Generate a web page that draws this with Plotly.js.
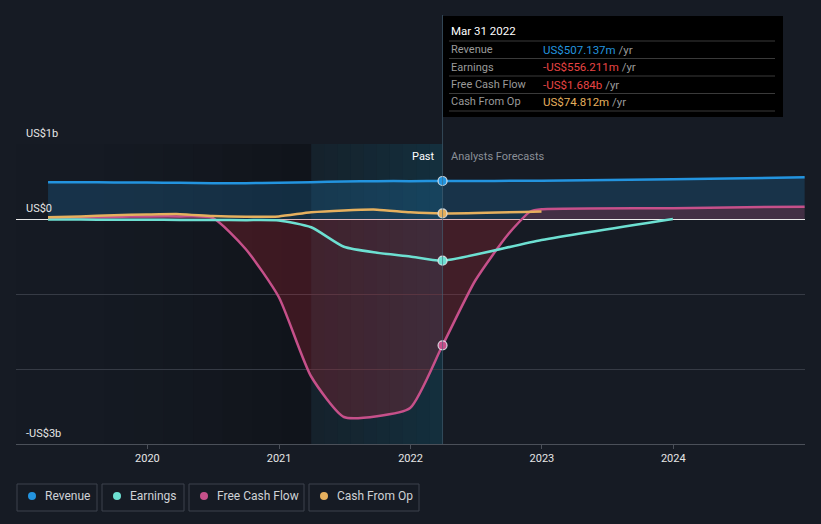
<!DOCTYPE html>
<html>
<head>
<meta charset="utf-8">
<script src="https://cdn.plot.ly/plotly-3.0.1.min.js"></script>
<style>html,body{margin:0;padding:0;background:#161b24;}#chart{width:821px;height:524px;}</style>
</head>
<body>
<div id="chart"></div>
<script>
// ---- data (US$ billions) ----
const pastDates = ['2019-03-31','2019-06-30','2019-09-30','2019-12-31','2020-03-31','2020-06-30','2020-09-30','2020-12-31','2021-03-31','2021-06-30','2021-09-30','2021-12-31','2022-03-31'];
const revenuePast  = [0.49, 0.49, 0.488, 0.486, 0.483, 0.478, 0.478, 0.482, 0.49, 0.50, 0.505, 0.505, 0.507];
const earningsPast = [-0.005, -0.008, -0.01, -0.01, -0.012, -0.012, -0.015, -0.02, -0.11, -0.37, -0.45, -0.50, -0.556];
const fcfPast      = [0.02, 0.022, 0.028, 0.035, 0.035, 0.015, -0.40, -1.04, -2.10, -2.64, -2.63, -2.52, -1.684];
const cfoPast      = [0.025, 0.035, 0.05, 0.06, 0.065, 0.04, 0.03, 0.035, 0.09, 0.115, 0.125, 0.09, 0.0748];

const revenueFcDates  = ['2022-12-31','2023-12-31','2024-12-31'];
const revenueFc       = [0.51, 0.53, 0.556];
const earningsFcDates = ['2022-12-31','2023-12-31'];
const earningsFc      = [-0.28, 0.0];
const fcfFcDates      = ['2022-06-30','2022-09-30','2022-11-30','2022-12-31','2023-12-31','2024-12-31'];
const fcfFc           = [-0.82, -0.20, 0.10, 0.13, 0.145, 0.165];
const cfoFcDates      = ['2022-12-31'];
const cfoFc           = [0.10];

const seriesNames  = ['Revenue','Earnings','Free Cash Flow','Cash From Op'];
const seriesColors = ['#2394df','#6de0d2','#c6508a','#e6b05e'];
const tooltipDate  = 'Mar 31 2022';
const tooltipValues = ['US$507.137m','-US$556.211m','-US$1.684b','US$74.812m'];
const tooltipValueColors = ['#2394df','#e84545','#e84545','#e6b05e'];
const yTickVals  = [1, 0, -3];
const yTickText  = ['US$1b','US$0','-US$3b'];
const xTickVals  = ['2020-01-01','2021-01-01','2022-01-01','2023-01-01','2024-01-01'];
const xTickText  = ['2020','2021','2022','2023','2024'];
const pastStart = '2021-03-31', nowDate = '2022-03-31';

// ---- geometry helpers (pixel -> paper) ----
const W = 821, H = 524, L = 16, R = 16, T = 144, B = 80;
const PW = W - L - R, PH = H - T - B;
const px = x => (x - L) / PW;
const py = y => (H - B - y) / PH;

const F = 'Roboto, "Open Sans", sans-serif';

const traces = [];
// Revenue
traces.push({x: pastDates.concat(revenueFcDates), y: revenuePast.concat(revenueFc), type:'scatter', mode:'lines',
  line:{color:seriesColors[0], width:2.5, shape:'spline', smoothing:0.6}, fill:'tozeroy',
  fillcolor:'rgba(35,148,223,0.2)', hoverinfo:'skip'});
// Free cash flow
traces.push({x: pastDates.concat(fcfFcDates), y: fcfPast.concat(fcfFc), type:'scatter', mode:'lines',
  line:{color:seriesColors[2], width:2.5, shape:'spline', smoothing:0.6}, fill:'tozeroy',
  fillcolor:'rgba(190,40,55,0.26)', hoverinfo:'skip'});
// Earnings
traces.push({x: pastDates.concat(earningsFcDates), y: earningsPast.concat(earningsFc), type:'scatter', mode:'lines',
  line:{color:seriesColors[1], width:2.5, shape:'spline', smoothing:0.6}, hoverinfo:'skip'});
// Cash from op
traces.push({x: pastDates.concat(cfoFcDates), y: cfoPast.concat(cfoFc), type:'scatter', mode:'lines',
  line:{color:seriesColors[3], width:2.5, shape:'spline', smoothing:0.6}, hoverinfo:'skip'});
// markers at "now"
const nowVals = [revenuePast, earningsPast, fcfPast, cfoPast].map(a => a[a.length-1]);
traces.push({x: nowVals.map(() => nowDate), y: nowVals, type:'scatter', mode:'markers',
  marker:{size:9, color:seriesColors, line:{color:'rgba(230,235,240,0.85)', width:1.2}}, hoverinfo:'skip'});

const shapes = [];
// dark gradient before the past band
const gradStrips = 10;
const t0 = new Date('2019-01-01').getTime(), t1 = new Date(pastStart).getTime();
for (let i = 0; i < gradStrips; i++) {
  const a = new Date(t0 + (t1 - t0) * i / gradStrips).toISOString().slice(0,10);
  const b = new Date(t0 + (t1 - t0) * (i+1) / gradStrips).toISOString().slice(0,10);
  shapes.push({type:'rect', xref:'x', yref:'paper', x0:a, x1:b, y0:0, y1:1, layer:'below', line:{width:0},
    fillcolor:`rgba(0,0,0,${(0.25*Math.pow((i+1)/gradStrips,1.8)).toFixed(3)})`});
}
// past band (teal gradient)
const t2 = new Date(nowDate).getTime();
const bandStrips = 10;
for (let i = 0; i < bandStrips; i++) {
  const a = new Date(t1 + (t2 - t1) * i / bandStrips).toISOString().slice(0,10);
  const b = new Date(t1 + (t2 - t1) * (i+1) / bandStrips).toISOString().slice(0,10);
  shapes.push({type:'rect', xref:'x', yref:'paper', x0:a, x1:b, y0:0, y1:1, layer:'below', line:{width:0},
    fillcolor:`rgba(15,95,120,${(0.08 + 0.22*(i+1)/bandStrips).toFixed(3)})`});
}
// vertical "now" line
shapes.push({type:'line', xref:'x', yref:'paper', x0:nowDate, x1:nowDate, y0:0, y1:py(15),
  line:{color:'rgba(70,100,120,0.6)', width:1}});
// tooltip box
shapes.push({type:'rect', xref:'paper', yref:'paper', x0:px(443), x1:px(783), y0:py(117), y1:py(16),
  fillcolor:'#000000', line:{width:0}});
[41, 58.5, 76, 93.5, 111].forEach(yy => shapes.push({type:'line', xref:'paper', yref:'paper',
  x0:px(449), x1:px(775), y0:py(yy), y1:py(yy), line:{color:'#3a3a3a', width:1}}));
// legend boxes
const legBoxes = [[17,97],[102,184],[189,304],[309,419]];
legBoxes.forEach((bx, i) => {
  shapes.push({type:'rect', xref:'paper', yref:'paper', x0:px(bx[0]), x1:px(bx[1]), y0:py(511), y1:py(484),
    line:{color:'#3d434d', width:1}, fillcolor:'rgba(0,0,0,0)'});
  const cx = bx[0] + 15, cy = 496;
  shapes.push({type:'circle', xref:'paper', yref:'paper', x0:px(cx-4), x1:px(cx+4), y0:py(cy+4), y1:py(cy-4),
    fillcolor:seriesColors[i], line:{width:0}});
});

const annotations = [];
// y tick labels (inside, above the gridline)
yTickVals.forEach((v, i) => annotations.push({xref:'paper', yref:'y', x:px(24), y:v, text:yTickText[i],
  showarrow:false, xanchor:'left', yanchor:'bottom', yshift:2, font:{family:F, size:11, color:'#e6e6e6'}}));
// Past / Analysts Forecasts
annotations.push({xref:'x', yref:'paper', x:nowDate, y:py(156), text:'Past', showarrow:false, xanchor:'right', yanchor:'middle', xshift:-6,
  font:{family:F, size:11, color:'#ffffff'}});
annotations.push({xref:'x', yref:'paper', x:nowDate, y:py(156), text:'Analysts Forecasts', showarrow:false, xanchor:'left', yanchor:'middle', xshift:6,
  font:{family:F, size:11, color:'#8a8f97'}});
// tooltip text
annotations.push({xref:'paper', yref:'paper', x:px(449), y:py(31), text:tooltipDate, showarrow:false, xanchor:'left', yanchor:'middle',
  font:{family:F, size:11.5, color:'#ffffff'}});
const rowY = [49.5, 67, 84.5, 101.5];
seriesNames.forEach((n, i) => {
  annotations.push({xref:'paper', yref:'paper', x:px(449), y:py(rowY[i]), text:n, showarrow:false, xanchor:'left', yanchor:'middle',
    font:{family:F, size:11, color:'#9a9a9a'}});
  annotations.push({xref:'paper', yref:'paper', x:px(541), y:py(rowY[i]),
    text:`<span style="color:${tooltipValueColors[i]}">${tooltipValues[i]}</span> /yr`, showarrow:false, xanchor:'left', yanchor:'middle',
    font:{family:F, size:11.5, color:'#9a9a9a'}});
});
// legend text
legBoxes.forEach((bx, i) => annotations.push({xref:'paper', yref:'paper', x:px(bx[0]+26), y:py(496), text:seriesNames[i],
  showarrow:false, xanchor:'left', yanchor:'middle', font:{family:F, size:12, color:'#cfd2d6'}}));

const layout = {
  width: W, height: H,
  margin: {l:L, r:R, t:T, b:B},
  paper_bgcolor:'#161b24', plot_bgcolor:'#161b24',
  showlegend:false,
  font:{family:F, color:'#e0e0e0'},
  xaxis:{type:'date', range:['2019-01-01','2025-01-01'], tickvals:xTickVals, ticktext:xTickText,
    showgrid:false, zeroline:false, showline:true, linecolor:'#4b5059', linewidth:1,
    ticks:'outside', ticklen:4, tickcolor:'#4b5059', tickfont:{family:F, size:11, color:'#e6e6e6'}, fixedrange:true},
  yaxis:{range:[-3,1], tickvals:[-3,-2,-1,0,1], showticklabels:false, showgrid:true, gridcolor:'#363b45', gridwidth:1,
    zeroline:true, zerolinecolor:'#e8e8e8', zerolinewidth:1, showline:false, fixedrange:true},
  shapes: shapes,
  annotations: annotations
};

Plotly.newPlot('chart', traces, layout, {displayModeBar:false, staticPlot:true});
</script>
</body>
</html>
